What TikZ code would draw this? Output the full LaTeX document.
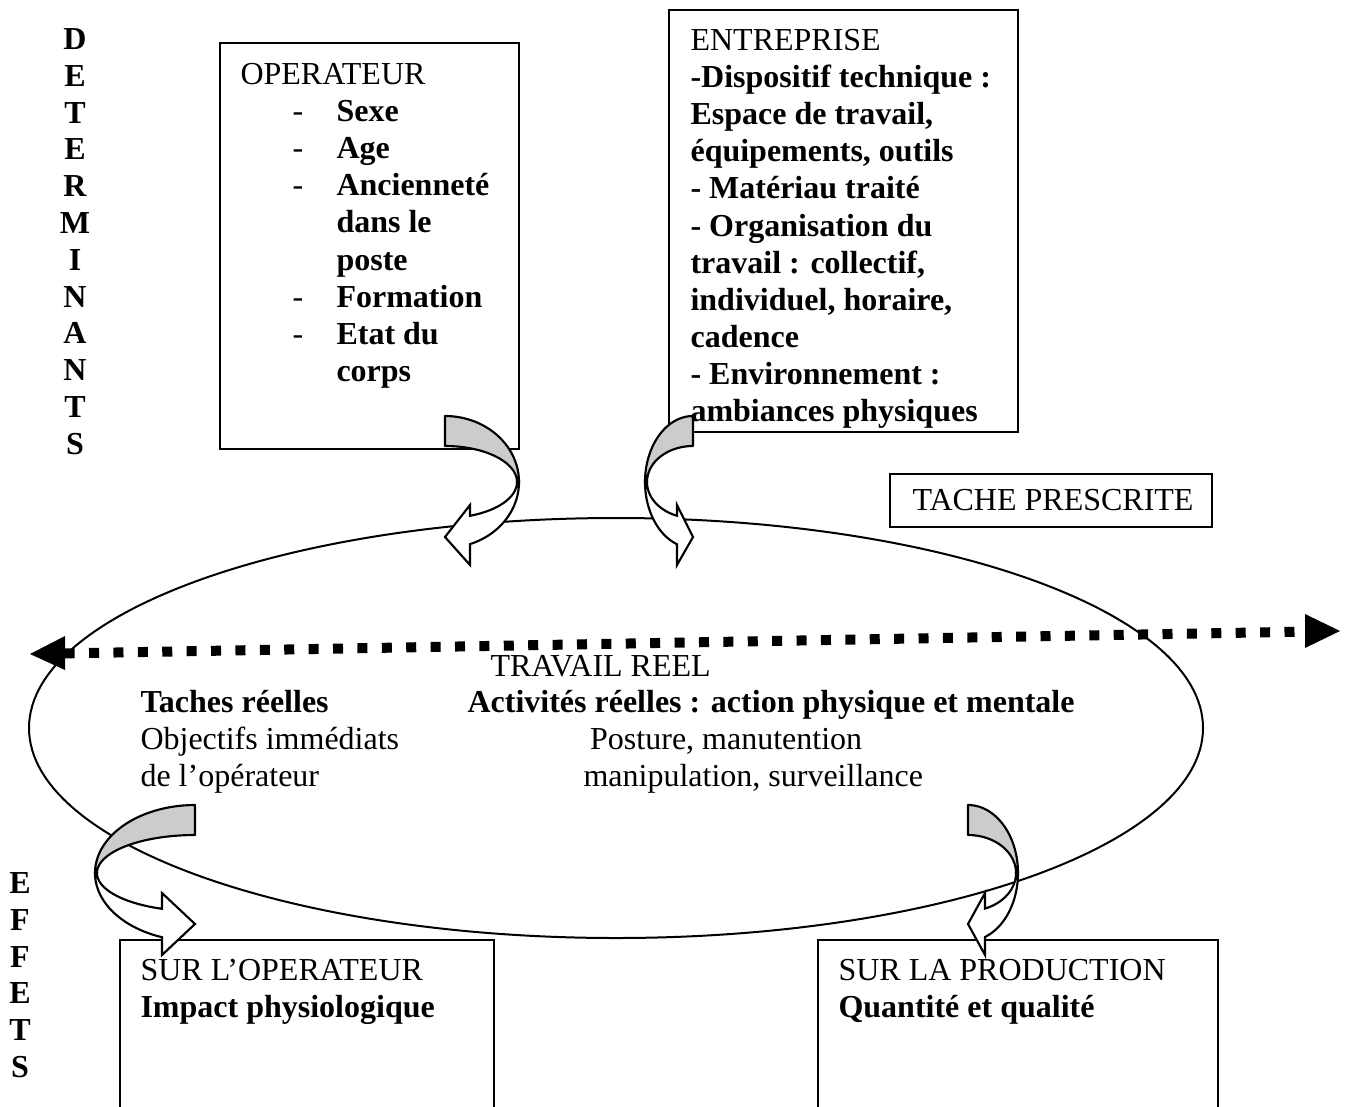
\documentclass[tikz,border=0pt]{standalone}
\usepackage{fontspec}
\setmainfont{Liberation Serif}
\usetikzlibrary{shapes.geometric}
\newcommand\opitem[1]{\makebox[36pt][l]{\hspace*{19.5pt}-}\textbf{#1}}
\newcommand\opcont[1]{\hspace*{36pt}\textbf{#1}}
\begin{document}
\begin{tikzpicture}[x=0.375pt,y=-0.375pt,
  txt/.style={anchor=north west, inner sep=0pt, align=left, font=\fontsize{12}{13.9}\selectfont},
  vert/.style={anchor=north, inner sep=0pt, align=center, font=\fontsize{12}{13.8}\selectfont\bfseries},
  boxline/.style={draw, line width=0.75pt},
  bandgray/.style={draw, line width=0.8pt, fill=black!20, line join=round},
  bandwhite/.style={draw, line width=0.8pt, fill=white, line join=miter},
  dotline/.style={line width=3.75pt, dash pattern=on 3.75pt off 5.4pt, line cap=butt},
]
\useasboundingbox (0,0) rectangle (1351,1106);

% ellipse TRAVAIL REEL
\node[ellipse, draw, line width=0.75pt, inner sep=0pt, minimum width=440.25pt, minimum height=157.5pt] (reel) at (616,728) {};

% boxes
\draw[boxline] (220,43) rectangle (519,449);
\draw[boxline] (669,10) rectangle (1018,432);
\draw[boxline] (890,474) rectangle (1212,527);
\draw[boxline] (120,1110) -- (120,940) -- (494,940) -- (494,1110);
\draw[boxline] (818,1110) -- (818,940) -- (1218,940) -- (1218,1110);

% dotted double arrow
\coordinate (dl) at (30,654);
\coordinate (dr) at (1340,631);
\draw[dotline, shorten <=13pt, shorten >=13pt] (dl) -- (dr);
\fill (dl) -- ++(35,-18) -- ++(0,34) -- cycle;
\fill (dr) -- ++(-35,-17) -- ++(0,34) -- cycle;

% curved arrow 1 (operateur -> travail reel)
\filldraw[bandgray] plot[domain=-90:0, samples=40, variable=\t] ({445+74*cos(\t)},{482+66*sin(\t)})
  -- plot[domain=0:-90, samples=40, variable=\t] ({445+72*cos(\t)},{482+36*sin(\t)}) -- cycle;
\filldraw[bandwhite] plot[domain=0:69.7, samples=40, variable=\t] ({445+72*cos(\t)},{482+36*sin(\t)})
  -- (470,505) -- (445,537) -- (470,565)
  -- plot[domain=70.3:0, samples=40, variable=\t] ({445+74*cos(\t)},{482+66*sin(\t)}) -- cycle;

% curved arrow 2 (entreprise -> travail reel)
\filldraw[bandgray] plot[domain=-90:-180, samples=40, variable=\t] ({693+48*cos(\t)},{482+66*sin(\t)})
  -- plot[domain=-180:-90, samples=40, variable=\t] ({693+46*cos(\t)},{482+36*sin(\t)}) -- cycle;
\filldraw[bandwhite] plot[domain=180:110.4, samples=40, variable=\t] ({693+46*cos(\t)},{482+36*sin(\t)})
  -- (677,505) -- (693,537) -- (677,565)
  -- plot[domain=109.5:180, samples=40, variable=\t] ({693+48*cos(\t)},{482+66*sin(\t)}) -- cycle;

% curved arrow 3 (travail reel -> sur l'operateur)
\filldraw[bandgray] plot[domain=-90:-180, samples=40, variable=\t] ({195+100*cos(\t)},{873+68*sin(\t)})
  -- plot[domain=-180:-90, samples=40, variable=\t] ({195+98*cos(\t)},{873+38*sin(\t)}) -- cycle;
\filldraw[bandwhite] plot[domain=180:109.7, samples=40, variable=\t] ({195+98*cos(\t)},{873+38*sin(\t)})
  -- (162,893) -- (195,924) -- (162,955)
  -- plot[domain=109.3:180, samples=40, variable=\t] ({195+100*cos(\t)},{873+68*sin(\t)}) -- cycle;

% curved arrow 4 (travail reel -> sur la production)
\filldraw[bandgray] plot[domain=-90:0, samples=40, variable=\t] ({968+50*cos(\t)},{873+68*sin(\t)})
  -- plot[domain=0:-90, samples=40, variable=\t] ({968+48*cos(\t)},{873+38*sin(\t)}) -- cycle;
\filldraw[bandwhite] plot[domain=0:69.3, samples=40, variable=\t] ({968+48*cos(\t)},{873+38*sin(\t)})
  -- (985,893) -- (968,924) -- (985,955)
  -- plot[domain=70.1:0, samples=40, variable=\t] ({968+50*cos(\t)},{873+68*sin(\t)}) -- cycle;

% vertical words
\node[vert] (determinants) at (75,28) {D\\E\\T\\E\\R\\M\\I\\N\\A\\N\\T\\S};
\node[vert] (effets) at (20,872) {E\\F\\F\\E\\T\\S};

% texts
\node[txt] (operateur) at (240,63) {OPERATEUR\\
\opitem{Sexe}\\
\opitem{Age}\\
\opitem{Ancienneté}\\
\opcont{dans le}\\
\opcont{poste}\\
\opitem{Formation}\\
\opitem{Etat du}\\
\opcont{corps}};

\node[txt] (entreprise) at (690,29) {ENTREPRISE\\
\textbf{-Dispositif technique :}\\
\textbf{Espace de travail,}\\
\textbf{équipements, outils}\\
\textbf{- Matériau traité}\\
\textbf{- Organisation du}\\
\textbf{travail : collectif,}\\
\textbf{individuel, horaire,}\\
\textbf{cadence}\\
\textbf{- Environnement :}\\
\textbf{ambiances physiques}};

\node[txt] (prescrite) at (912,489) {TACHE PRESCRITE};
\node[txt] (travailreel) at (490,655) {TRAVAIL REEL};
\node[txt] (taches) at (140,690) {\textbf{Taches réelles}\\Objectifs immédiats\\de l’opérateur};
\node[txt] (activites) at (467,690) {\textbf{Activités réelles : action physique et mentale}\\
\hspace*{46pt}Posture, manutention\\
\hspace*{43.5pt}manipulation, surveillance};
\node[txt] (surop) at (140,959) {SUR L’OPERATEUR\\\textbf{Impact physiologique}};
\node[txt] (surprod) at (838,959) {SUR LA PRODUCTION\\\textbf{Quantité et qualité}};
\end{tikzpicture}
\end{document}
